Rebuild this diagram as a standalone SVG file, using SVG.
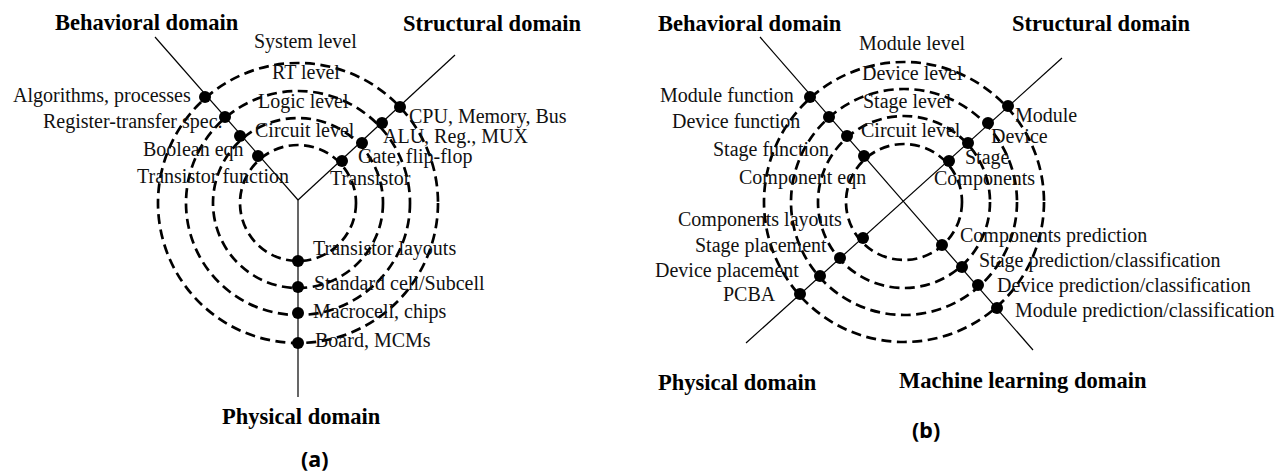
<svg xmlns="http://www.w3.org/2000/svg" width="1284" height="473" viewBox="0 0 1284 473">
  <style>
    .ring { fill: none; stroke: #000; stroke-width: 2.7; stroke-dasharray: 10 5.5; }
    .axis { fill: none; stroke: #000; stroke-width: 1.2; }
    .dot { fill: #000; }
    .lbl { font-family: "Liberation Serif", "Times New Roman", serif; font-size: 20px; fill: #111; }
    .dom { font-family: "Liberation Serif", "Times New Roman", serif; font-size: 22.5px; font-weight: bold; fill: #000; }
    .cap { font-family: "Noto Sans", "Liberation Sans", sans-serif; font-size: 21.5px; font-weight: bold; fill: #000; }
  </style>
  <rect width="1284" height="473" fill="#fff"/>

  <!-- Panel (a): Y-chart -->
  <g id="a-rings">
    <circle class="ring" cx="298" cy="203" r="58"/>
    <circle class="ring" cx="298" cy="203" r="85"/>
    <circle class="ring" cx="298" cy="203" r="112"/>
    <circle class="ring" cx="298" cy="203" r="140"/>
  </g>
  <g id="a-connectors">
    <line class="axis" x1="155" y1="37" x2="298" y2="200"/>
    <line class="axis" x1="455" y1="55" x2="298" y2="200"/>
    <line class="axis" x1="298" y1="200" x2="298" y2="397"/>
  </g>
  <g id="a-domains">
    <text class="dom" x="55" y="30">Behavioral domain</text>
    <text class="dom" x="403" y="31">Structural domain</text>
    <text class="dom" x="222" y="424">Physical domain</text>
    <text class="cap" x="301" y="467">(a)</text>
  </g>
  <g id="a-levels">
    <text class="lbl" x="254" y="48">System level</text>
    <text class="lbl" x="272" y="79">RT level</text>
    <text class="lbl" x="258" y="108">Logic level</text>
    <text class="lbl" x="255" y="137">Circuit level</text>
  </g>
  <g id="a-beh-1"><circle class="dot" cx="205" cy="97" r="6"/><text class="lbl" x="13" y="102">Algorithms, processes</text></g>
  <g id="a-beh-2"><circle class="dot" cx="225" cy="117" r="6"/><text class="lbl" x="43" y="128">Register-transfer spec.</text></g>
  <g id="a-beh-3"><circle class="dot" cx="240" cy="136" r="6"/><text class="lbl" x="143" y="156">Boolean eqn</text></g>
  <g id="a-beh-4"><circle class="dot" cx="258" cy="156" r="6"/><text class="lbl" x="137" y="183">Transistor function</text></g>
  <g id="a-str-1"><circle class="dot" cx="400" cy="107" r="6"/><text class="lbl" x="409" y="123">CPU, Memory, Bus</text></g>
  <g id="a-str-2"><circle class="dot" cx="382" cy="123" r="6"/><text class="lbl" x="383" y="143">ALU, Reg., MUX</text></g>
  <g id="a-str-3"><circle class="dot" cx="362" cy="143" r="6"/><text class="lbl" x="358" y="163">Gate, flip-flop</text></g>
  <g id="a-str-4"><circle class="dot" cx="342" cy="161" r="6"/><text class="lbl" x="330" y="185">Transistor</text></g>
  <g id="a-phy-1"><circle class="dot" cx="298" cy="261" r="6"/><text class="lbl" x="313" y="255">Transistor layouts</text></g>
  <g id="a-phy-2"><circle class="dot" cx="298" cy="287" r="6"/><text class="lbl" x="314" y="290">Standard cell/Subcell</text></g>
  <g id="a-phy-3"><circle class="dot" cx="298" cy="313" r="6"/><text class="lbl" x="313" y="318">Macrocell, chips</text></g>
  <g id="a-phy-4"><circle class="dot" cx="298" cy="343" r="6"/><text class="lbl" x="315" y="347">Board, MCMs</text></g>

  <!-- Panel (b): X-chart -->
  <g id="b-rings">
    <circle class="ring" cx="904" cy="202" r="58"/>
    <circle class="ring" cx="904" cy="202" r="86"/>
    <circle class="ring" cx="904" cy="202" r="113"/>
    <circle class="ring" cx="904" cy="202" r="140"/>
  </g>
  <g id="b-connectors">
    <line class="axis" x1="760" y1="37" x2="1033" y2="350"/>
    <line class="axis" x1="1062" y1="58" x2="746" y2="343"/>
  </g>
  <g id="b-domains">
    <text class="dom" x="658" y="31">Behavioral domain</text>
    <text class="dom" x="1012" y="31">Structural domain</text>
    <text class="dom" x="658" y="390">Physical domain</text>
    <text class="dom" x="899" y="388">Machine learning domain</text>
    <text class="cap" x="912" y="438">(b)</text>
  </g>
  <g id="b-levels">
    <text class="lbl" x="859" y="50">Module level</text>
    <text class="lbl" x="862" y="80">Device level</text>
    <text class="lbl" x="863" y="108">Stage level</text>
    <text class="lbl" x="861" y="137">Circuit level</text>
  </g>
  <g id="b-beh-1"><circle class="dot" cx="810" cy="97" r="6"/><text class="lbl" x="660" y="102">Module function</text></g>
  <g id="b-beh-2"><circle class="dot" cx="829" cy="117" r="6"/><text class="lbl" x="672" y="128">Device function</text></g>
  <g id="b-beh-3"><circle class="dot" cx="847" cy="136" r="6"/><text class="lbl" x="713" y="156">Stage function</text></g>
  <g id="b-beh-4"><circle class="dot" cx="864" cy="156" r="6"/><text class="lbl" x="739" y="184">Component eqn</text></g>
  <g id="b-str-1"><circle class="dot" cx="1008" cy="106" r="6"/><text class="lbl" x="1015" y="122">Module</text></g>
  <g id="b-str-2"><circle class="dot" cx="988" cy="123" r="6"/><text class="lbl" x="991" y="143">Device</text></g>
  <g id="b-str-3"><circle class="dot" cx="968" cy="143" r="6"/><text class="lbl" x="965" y="164">Stage</text></g>
  <g id="b-str-4"><circle class="dot" cx="949" cy="161" r="6"/><text class="lbl" x="934" y="185">Components</text></g>
  <g id="b-phy-1"><circle class="dot" cx="863" cy="238" r="6"/><text class="lbl" x="678" y="226">Components layouts</text></g>
  <g id="b-phy-2"><circle class="dot" cx="840" cy="258" r="6"/><text class="lbl" x="695" y="252">Stage placement</text></g>
  <g id="b-phy-3"><circle class="dot" cx="820" cy="276" r="6"/><text class="lbl" x="655" y="277">Device placement</text></g>
  <g id="b-phy-4"><circle class="dot" cx="800" cy="294" r="6"/><text class="lbl" x="723" y="301">PCBA</text></g>
  <g id="b-ml-1"><circle class="dot" cx="942" cy="245" r="6"/><text class="lbl" x="960" y="242">Components prediction</text></g>
  <g id="b-ml-2"><circle class="dot" cx="962" cy="267" r="6"/><text class="lbl" x="979" y="267">Stage prediction/classification</text></g>
  <g id="b-ml-3"><circle class="dot" cx="978" cy="285" r="6"/><text class="lbl" x="997" y="292">Device prediction/classification</text></g>
  <g id="b-ml-4"><circle class="dot" cx="997" cy="308" r="6"/><text class="lbl" x="1015" y="317">Module prediction/classification</text></g>
</svg>
